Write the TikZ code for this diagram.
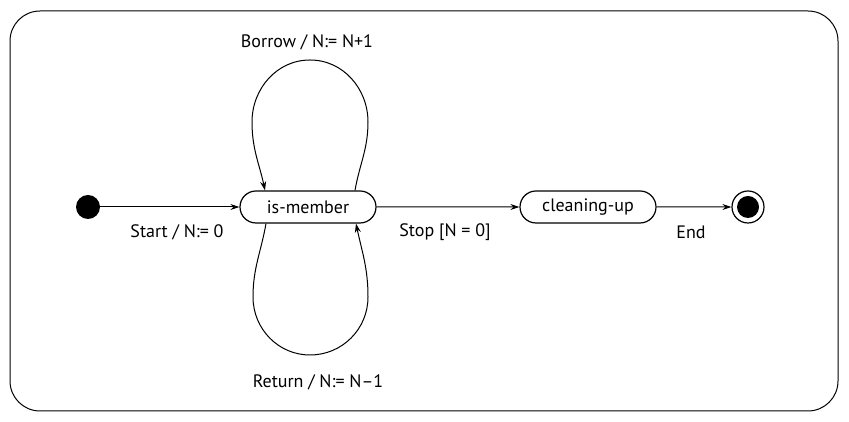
\documentclass[tikz,border=0pt]{standalone}
\usepackage{fontspec}
\setmainfont{PT Sans}
\usetikzlibrary{arrows.meta,shapes.misc}
\tikzset{
  state/.style={draw,line width=1.2pt,rounded rectangle,minimum width=136pt,minimum height=32pt,inner sep=0pt},
  trans/.style={line width=1pt,-{Stealth[length=9pt,width=6pt]}},
  lbl/.style={inner sep=0pt,font=\fontsize{18}{21}\selectfont}
}
\begin{document}
\begin{tikzpicture}[x=1pt,y=1pt,font=\fontsize{18}{21}\selectfont]
  \useasboundingbox (0,0) rectangle (849,422);
  \draw[line width=1pt,rounded corners=30pt] (10,11) rectangle (838,411);

  \node[circle,fill=black,minimum size=24pt,inner sep=0pt] (init) at (88,215) {};
  \node[state] (member) at (308,215) {is-member};
  \node[state] (clean) at (588,215) {cleaning-up};
  \node[circle,draw,line width=1.2pt,minimum size=32pt,inner sep=0pt] (final) at (748,215) {};
  \fill (final.center) circle (11pt);

  \draw[trans] (init) -- (member);
  \draw[trans] (member) -- (clean);
  \draw[trans] (clean) -- (final);

  % self loops
  \draw[trans] ([xshift=47pt]member.north) to[out=80,in=-90] (368,300)
     to[out=90,in=0] (310,362) to[out=180,in=90] (252,300)
     to[out=-90,in=102] ([xshift=-43pt]member.north);
  \draw[trans] ([xshift=-42pt]member.south) to[out=-100,in=90] (253,125)
     to[out=-90,in=180] (310,67) to[out=0,in=-90] (368,125)
     to[out=90,in=-78] ([xshift=48pt]member.south);

  \node[lbl] (l-start) at (177,190) {Start / N:= 0};
  \node[lbl] (l-stop) at (445,190) {Stop [N = 0]};
  \node[lbl] (l-end) at (691,190) {End};
  \node[lbl] (l-borrow) at (307,380) {Borrow / N:= N+1};
  \node[lbl] (l-return) at (318,40) {Return / N:= N--1};
\end{tikzpicture}
\end{document}
